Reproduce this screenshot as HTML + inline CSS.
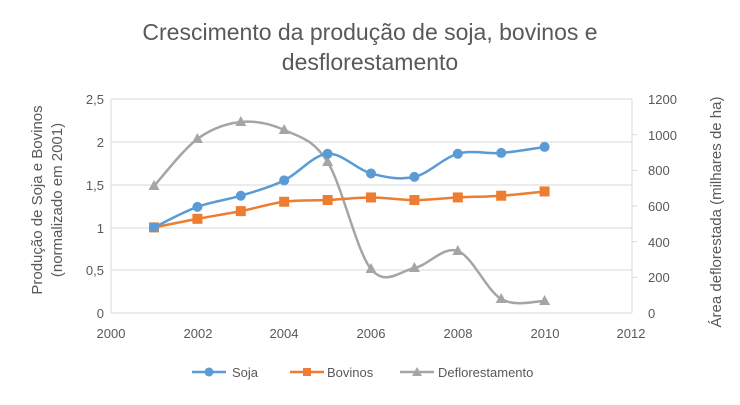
<!DOCTYPE html>
<html><head><meta charset="utf-8"><style>
body{margin:0;background:#fff}
svg text{font-family:"Liberation Sans",sans-serif;fill:#595959}
</style></head><body>
<svg id="s" width="740" height="400" xmlns="http://www.w3.org/2000/svg">
<rect width="740" height="400" fill="#fff"/>
<text x="370" y="40" font-size="23" text-anchor="middle">Crescimento da produção de soja, bovinos e</text>
<text x="370" y="70" font-size="23" text-anchor="middle">desflorestamento</text>
<g stroke="#d9d9d9" stroke-width="1">
<line x1="111" y1="99" x2="632" y2="99"/><line x1="111" y1="142" x2="632" y2="142"/>
<line x1="111" y1="185" x2="632" y2="185"/><line x1="111" y1="228" x2="632" y2="228"/>
<line x1="111" y1="270" x2="632" y2="270"/><line x1="111" y1="313" x2="632" y2="313"/>
<line x1="111" y1="99" x2="111" y2="313"/><line x1="632" y1="99" x2="632" y2="313"/>
<line x1="632" y1="134.7" x2="637" y2="134.7"/><line x1="632" y1="170.3" x2="637" y2="170.3"/>
<line x1="632" y1="206" x2="637" y2="206"/><line x1="632" y1="241.7" x2="637" y2="241.7"/>
<line x1="632" y1="277.3" x2="637" y2="277.3"/>
</g>
<g font-size="13" text-anchor="end">
<text x="104" y="104">2,5</text><text x="104" y="147">2</text><text x="104" y="190">1,5</text>
<text x="104" y="233">1</text><text x="104" y="275">0,5</text><text x="104" y="318">0</text>
</g>
<g font-size="13" text-anchor="start">
<text x="648" y="104">1200</text><text x="648" y="140">1000</text><text x="648" y="175">800</text>
<text x="648" y="211">600</text><text x="648" y="247">400</text><text x="648" y="282">200</text><text x="648" y="318">0</text>
</g>
<g font-size="13" text-anchor="middle">
<text x="111" y="338">2000</text><text x="198" y="338">2002</text><text x="284" y="338">2004</text>
<text x="371" y="338">2006</text><text x="458" y="338">2008</text><text x="545" y="338">2010</text><text x="631" y="338">2012</text>
</g>
<text transform="translate(42,200) rotate(-90)" font-size="15" text-anchor="middle">Produção de Soja e Bovinos</text>
<text transform="translate(62,200) rotate(-90)" font-size="15" text-anchor="middle">(normalizado em 2001)</text>
<text transform="translate(721,212) rotate(-90)" font-size="15" text-anchor="middle">Área deflorestada (milhares de ha)</text>
<g id="series"></g>
<g font-size="13">
<line x1="192" y1="372" x2="226" y2="372" stroke="#5b9bd5" stroke-width="2.5"/><circle cx="209" cy="372" r="4.5" fill="#5b9bd5"/>
<text x="232" y="377">Soja</text>
<line x1="290" y1="372" x2="324" y2="372" stroke="#ed7d31" stroke-width="2.5"/><rect x="303" y="368" width="8" height="8" fill="#ed7d31"/>
<text x="327" y="377">Bovinos</text>
<line x1="400" y1="372" x2="434" y2="372" stroke="#a5a5a5" stroke-width="2.5"/><polygon points="417,367 422,376 412,376" fill="#a5a5a5"/>
<text x="438" y="377">Deflorestamento</text>
</g>
</svg>
<script>
var X=function(i){return 154+43.4*i};
var soja=[1.0,1.24,1.37,1.55,1.86,1.63,1.59,1.86,1.87,1.94].map(function(v){return 313-85.6*v});
var bov=[1.0,1.10,1.19,1.30,1.32,1.35,1.32,1.35,1.37,1.42].map(function(v){return 313-85.6*v});
var def=[186,139,122,130,162,269,268,251,299,301];
function path(ys){var p=ys.map(function(y,i){return [X(i),y]});var d="M"+p[0];
for(var i=0;i<p.length-1;i++){var a=p[i-1]||p[i],b=p[i],c=p[i+1],e=p[i+2]||c;
var t=1/6;d+=" C"+(b[0]+(c[0]-a[0])*t)+","+(b[1]+(c[1]-a[1])*t)+" "+(c[0]-(e[0]-b[0])*t)+","+(c[1]-(e[1]-b[1])*t)+" "+c;}
return d;}
var g=document.getElementById("series"),h="";
h+='<path d="'+path(def)+'" fill="none" stroke="#a5a5a5" stroke-width="2.5"/>';
def.forEach(function(y,i){var x=X(i);h+='<polygon points="'+x+','+(y-6)+' '+(x+5.5)+','+(y+4)+' '+(x-5.5)+','+(y+4)+'" fill="#a5a5a5"/>'});
h+='<path d="'+path(bov)+'" fill="none" stroke="#ed7d31" stroke-width="2.5"/>';
bov.forEach(function(y,i){h+='<rect x="'+(X(i)-5)+'" y="'+(y-5)+'" width="10" height="10" fill="#ed7d31"/>'});
h+='<path d="'+path(soja)+'" fill="none" stroke="#5b9bd5" stroke-width="2.5"/>';
soja.forEach(function(y,i){h+='<circle cx="'+X(i)+'" cy="'+y+'" r="5" fill="#5b9bd5"/>'});
g.innerHTML=h;
</script>
</body></html>
